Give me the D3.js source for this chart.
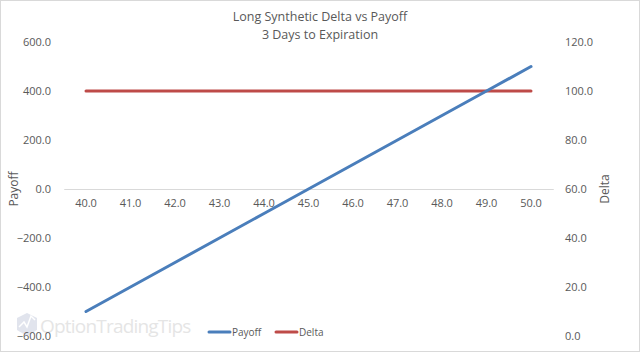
<!DOCTYPE html>
<html><head><meta charset="utf-8">
<script src="https://cdn.jsdelivr.net/npm/d3@7"></script>
<style>body{margin:0;background:#fff}svg{display:block}text{font-family:"Open Sans","Liberation Sans",sans-serif}</style>
</head><body>
<svg id="c" width="640" height="352"></svg>
<script>
const categories = [40,41,42,43,44,45,46,47,48,49,50];
const payoff = [-500,-400,-300,-200,-100,0,100,200,300,400,500];
const delta = [100,100,100,100,100,100,100,100,100,100,100];
const leftTicks = [-600,-400,-200,0,200,400,600];
const rightTicks = [0,20,40,60,80,100,120];
const titleLines = ["Long Synthetic Delta vs Payoff","3 Days to Expiration"];

const svg = d3.select("#c");
svg.append("rect").attr("x",0.5).attr("y",0.5).attr("width",639).attr("height",351)
  .attr("fill","#fff").attr("stroke","#d9d9d9");

const x = d3.scaleBand().domain(categories).range([63.75,553.25]);
const yL = d3.scaleLinear().domain([-600,600]).range([336,42]);
const yR = d3.scaleLinear().domain([0,120]).range([336,42]);
const fmt = d3.format(".1f");
const txt = "#595959";

// watermark
const wm = svg.append("g").attr("opacity",0.55);
wm.append("path").attr("d","M17,318 L27,313 L37,318 L37,330 L27,336 L17,330 Z").attr("fill","#c9cfe0");
wm.append("path").attr("d","M19,327 L24,322 L27,327 L31,316 L35,320").attr("fill","none").attr("stroke","#fff").attr("stroke-width",1.5);
wm.append("text").attr("x",40).attr("y",333).attr("font-size",19).attr("fill","#d0d0d0")
  .attr("font-family","Liberation Sans, Arial, sans-serif").attr("letter-spacing","-0.8").text("OptionTradingTips");

// title
svg.selectAll(".title").data(titleLines).join("text")
  .attr("x",320).attr("y",(d,i)=>21+i*18).attr("text-anchor","middle")
  .attr("font-size",12.5).attr("fill",txt).text(d=>d);

// left axis
const gL = svg.append("g").attr("transform","translate(62,0)")
  .call(d3.axisLeft(yL).tickValues(leftTicks).tickFormat(fmt).tickSize(0).tickPadding(11));
gL.select(".domain").remove();
gL.selectAll("text").attr("font-size",11).attr("fill",txt).attr("font-family","Open Sans, sans-serif");

// right axis
const gR = svg.append("g").attr("transform","translate(554,0)")
  .call(d3.axisRight(yR).tickValues(rightTicks).tickFormat(fmt).tickSize(0).tickPadding(11));
gR.select(".domain").remove();
gR.selectAll("text").attr("font-size",11).attr("fill",txt).attr("font-family","Open Sans, sans-serif");

// category axis at zero
const gX = svg.append("g").attr("transform",`translate(0,${yL(0)})`)
  .call(d3.axisBottom(x).tickFormat(fmt).tickSize(0).tickPadding(10));
gX.select(".domain").attr("stroke","#d9d9d9");
gX.selectAll("text").attr("font-size",11).attr("fill",txt).attr("font-family","Open Sans, sans-serif");

// axis titles
svg.append("text").attr("transform",`translate(18,${yL(0)}) rotate(-90)`).attr("text-anchor","middle")
  .attr("font-size",12).attr("fill",txt).text("Payoff");
svg.append("text").attr("transform",`translate(609,${yL(0)}) rotate(-90)`).attr("text-anchor","middle")
  .attr("font-size",12).attr("fill",txt).text("Delta");

const cx = d => x(d)+x.bandwidth()/2;
const lineP = d3.line().x((d,i)=>cx(categories[i])).y(d=>yL(d));
const lineD = d3.line().x((d,i)=>cx(categories[i])).y(d=>yR(d));
svg.append("path").datum(delta).attr("d",lineD).attr("fill","none").attr("stroke","#BE4B48").attr("stroke-width",3).attr("stroke-linecap","round");
svg.append("path").datum(payoff).attr("d",lineP).attr("fill","none").attr("stroke","#4A7EBB").attr("stroke-width",3).attr("stroke-linecap","round");

// legend
const legend = [{name:"Payoff",color:"#4A7EBB",x:209},{name:"Delta",color:"#BE4B48",x:276}];
const lg = svg.selectAll(".lg").data(legend).join("g").attr("transform",d=>`translate(${d.x},332)`);
lg.append("line").attr("x1",0).attr("x2",21).attr("stroke",d=>d.color).attr("stroke-width",3).attr("stroke-linecap","round");
lg.append("text").attr("x",23).attr("y",4).attr("font-size",10).attr("fill",txt).text(d=>d.name);
</script>
</body></html>
